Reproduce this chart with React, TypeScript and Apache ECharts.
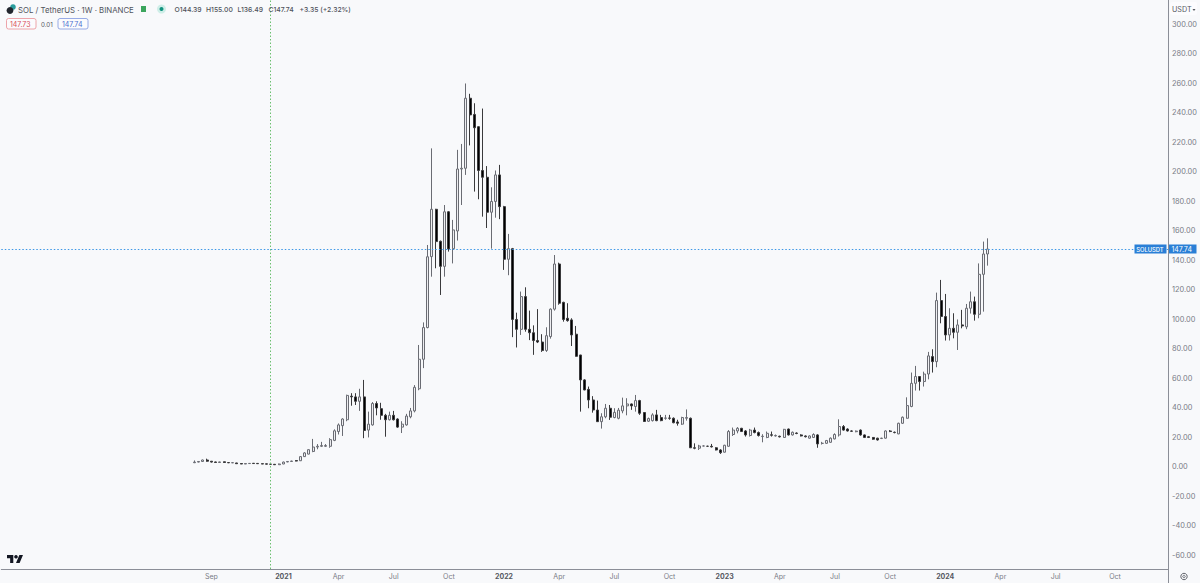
import React, { useEffect, useRef } from "react";
import * as echarts from "echarts";

const opens = [
  2.9,3.3,3.7,4.7,3.9,3.4,3.0,3.5,3.0,2.8,
  2.7,2.3,2.0,2.3,2.5,2.4,2.2,2.1,1.9,1.8,
  1.5,2.0,3.4,3.7,4.3,4.2,7,8.7,10.5,13.5,
  14,14,14,18,24,28,32,48,47.5,44.5,
  47.5,25,28.5,43,39.5,35,32,35,32.5,27,
  28.5,34,38,53,73,94.5,142.6,174.7,153,136,
  173,148,160,202,202.5,250,239,230.7,201,196.4,
  172.7,180,198,176.5,140.8,148,100,93.3,115.5,93.3,
  91,85.7,84.7,79,88.4,107,137.6,111.6,100.8,99.7,
  90,75.9,59,52.6,45.4,38.6,30.7,34,39.8,33.5,
  33,38,41.4,42.7,41,45,36.9,31,31.4,35.3,
  33.5,33,33.2,33,30.5,29,33,33,13,12.7,
  14.2,14,14,13,11.5,10,14,22,24.4,26.2,
  24.4,21.3,25,23.3,20.6,20,21.8,21,20.8,20,
  25.7,21.7,23,21.7,21,19.5,20,21.7,16,16,
  16.7,19,21.7,27.4,25.7,24.4,23.9,25,21.7,20.5,
  20,19.5,19.3,19.5,24.4,23.5,22.4,29.6,33,41,
  56.7,61.3,57.9,63,74.8,71.4,112.8,102,89.5,94,
  91.3,96.3,95,107.6,112,103.5,130.6,144.39,
];
const closes = [
  3.3,3.7,4.7,3.9,3.3,3.0,3.4,3.0,2.8,2.9,
  2.2,2.0,2.3,2.4,2.3,2.2,2.0,1.9,1.8,1.5,
  2.0,3.3,3.7,4.0,4.0,7.0,9.5,11.7,13.5,14,
  14.5,14.5,18.5,24.5,28.5,32.5,48.5,47.5,44.5,47.5,
  24.7,29,43,40,35,32,35,32,27,29,
  34.5,38,54,73,94.5,142.5,174.7,152.8,136,173,
  147.8,160.7,202,202.5,250,238.7,230,201,196.4,172.7,
  180,198,176.5,140.8,148,100,93.3,115.5,93.3,91,
  85.7,84.7,78.9,89,107,137.6,111,100,99.2,89.5,
  75,59,52.2,45.4,38.6,30.7,34,39.8,33.7,37,
  38.5,41.4,42.7,41.4,45,36.4,30.8,32.8,35.3,31.4,
  31.4,33.2,33,30,29.6,33.5,33.5,13,12.7,14.2,
  14.2,14,13.6,11.5,9.7,14.7,24,25,26.2,24,
  21.7,25,23.3,21.3,20.8,22.8,21.5,21.3,20.4,25.5,
  21.7,23.5,22.7,21,20.5,21,22,15.6,16,17.9,
  19.5,22,27.4,25,24.4,24.2,24.3,21.7,20,20,
  18.8,18.3,19.5,24.4,24,23.3,29.6,33.7,41.6,56.7,
  61.3,57.9,63,75.3,71.4,112.8,102,89.5,94,91.3,
  96.3,95.6,107.6,112,103.5,130.6,144.4,147.74,
];
const lows = [
  2.6,3.1,3.5,3.5,3.0,2.8,2.9,2.8,2.6,2.6,
  2.1,1.9,1.9,2.2,2.2,2.1,1.9,1.8,1.6,1.4,
  1.4,1.9,3.2,3.5,3.8,4.0,6.8,8.5,10,12,
  13.5,13.5,13,17.5,22,21,31,41.5,42,38,
  19.5,20,28,35,32,20.5,31.5,31.5,26.5,23,
  28,33,37,52,67,94,129,134.7,116.6,129,
  146,138,153.5,177.6,198,218,186.7,181.5,169.7,162,
  148,169,168,133.6,130,88,81,89.5,91.7,86,
  76,84,78,78,87,106,110,98.5,98.5,82,
  74.8,37.5,52,39.8,36.8,30.5,26,33,31.9,33,
  32.3,36.4,35,38.7,37.5,35.3,30.6,30.5,30.8,31,
  31,32,32,29.6,28,28.5,31.4,12.8,12,11.5,
  14,13.8,13.2,11.2,8.8,9.8,13.8,21,22.8,23.8,
  20.6,20.6,22.8,20.6,16.7,19.5,20.6,20.6,20,19.8,
  21.3,21.3,22.2,20.7,20,19.2,19.6,13,15.2,15.7,
  16.4,18.7,20.6,24.6,24,23.8,23.5,21.2,19.6,19.6,
  18.4,17.9,18.9,19.2,23.6,22.8,22.2,29.2,32.8,40.5,
  51.8,51.8,54.5,59.4,64,67.6,97.4,85.7,85.7,87.2,
  79.3,94,93.4,104,99.2,100.8,105.3,136.49,
];
const highs = [
  4.4,3.9,5.0,5.6,4.0,3.6,3.6,3.6,3.1,3.1,
  2.8,2.4,2.4,2.6,2.6,2.5,2.3,2.2,2.0,1.9,
  2.3,3.6,3.9,4.2,4.6,7.3,10,12,19,15.5,
  17,15.5,19.5,25.5,29.5,33,49,50,50,53,
  59,37.5,44,44.5,43.5,36,37.5,38,33,31,
  36,40,55.5,82.7,98,150.5,216,175,153.5,177.6,
  173.5,167.5,215,219,260,253,246.6,231,243,204,
  189.6,201,204.8,177,158,148.5,104.6,118.9,121.8,106,
  96,107,90,94.7,107.5,143.7,138.5,112,111,100.8,
  95.6,76,59.5,54.5,48,45,36.4,42.7,42,39.8,
  40,47,46.6,43,48.8,45.5,37,33.5,36.4,38.7,
  35.3,35.3,35.3,33.6,32,34,39,33.5,16,15,
  14.6,14.4,15.6,13.4,12,15,25,26.7,27,26.5,
  25,25.8,26.7,24,22.2,24,24,22,21.2,25.8,
  26,24,23.4,22.2,21.4,21.4,22.8,22.2,17,18.3,
  20,22.8,32.3,28.4,26.2,24.8,24.7,25.4,22,21,
  20.3,19.8,19.8,24.8,25,24,30,34.2,47.2,64,
  68.5,61.6,64.6,78,79.8,118.2,126.8,117.3,107.6,104.2,
  100,106.5,110.5,118.9,115.5,138,152.8,155,
];

const priceTicks = [300,280,260,240,220,200,180,160,140,120,100,80,60,40,20,0,-20,-40,-60];
const dateTicks: Record<string, string> = {
  "2020-09-07": "Sep", "2021-01-04": "2021", "2021-04-05": "Apr", "2021-07-05": "Jul",
  "2021-10-04": "Oct", "2022-01-03": "2022", "2022-04-04": "Apr", "2022-07-04": "Jul",
  "2022-10-03": "Oct", "2023-01-02": "2023", "2023-04-03": "Apr", "2023-07-03": "Jul",
  "2023-10-02": "Oct", "2024-01-01": "2024", "2024-04-01": "Apr", "2024-07-01": "Jul",
  "2024-10-07": "Oct",
};
const headerTitle = "SOL / TetherUS · 1W · BINANCE";
const ohlcParts = ["O144.39", "H155.00", "L136.49", "C147.74", "+3.35 (+2.32%)"];
const ohlcX = [174.5, 206, 237.5, 268.5, 299.5];
const lastPrice = 147.74;
const crosshairWeek = "2020-12-14";

const LEAD = 45;
const TOTAL = 275;
const FONT = "Inter, 'Noto Sans', sans-serif";

const weekMs = 7 * 864e5;
const firstWeek = Date.UTC(2020, 7, 10);
const categories = Array.from({ length: TOTAL }, (_, i) =>
  new Date(firstWeek + (i - LEAD) * weekMs).toISOString().slice(0, 10)
);
const seriesData = categories.map((_, i) => {
  const k = i - LEAD;
  return k >= 0 && k < opens.length ? [opens[k], closes[k], lows[k], highs[k]] : ["-", "-", "-", "-"];
});

echarts.graphic.registerShape(
  "tvLogo",
  echarts.graphic.extendPath("M14 22H7V11H0V4h14v18ZM28 22h-8l7.5-18h8L28 22Z", {})
);

export default function App() {
  const ref = useRef<HTMLDivElement>(null);
  useEffect(() => {
    const chart = echarts.init(ref.current!, undefined, { renderer: "svg" });
    const txt = (x: number, y: number, text: string, fill: string, size: number, extra: any = {}) => ({
      type: "text", x, y, z: 20,
      style: { text, fill, font: `${extra.weight || 400} ${size}px ${FONT}`, textVerticalAlign: "middle", textAlign: extra.align || "left" },
    });
    chart.setOption({
      animation: false,
      backgroundColor: "#f8f9fb",
      grid: { left: 1.3, right: 32, top: 0, bottom: 14 },
      xAxis: {
        type: "category",
        data: categories,
        boundaryGap: true,
        axisLine: { show: true, onZero: false, lineStyle: { color: "#8b8e97", width: 1 } },
        axisTick: { show: false },
        splitLine: { show: false },
        axisLabel: {
          interval: (_: number, v: string) => v in dateTicks,
          formatter: (v: string) => {
            const t = dateTicks[v] || "";
            return /^\d+$/.test(t) ? `{y|${t}}` : t;
          },
          color: "#787b86",
          fontSize: 7,
          fontFamily: FONT,
          margin: 4,
          hideOverlap: false,
          rich: { y: { fontSize: 7, fontWeight: 700, color: "#55585f", fontFamily: FONT } },
        },
      },
      yAxis: {
        type: "value",
        position: "right",
        min: -69.2,
        max: 316.6,
        scale: true,
        axisLine: { show: true, lineStyle: { color: "#8b8e97", width: 1 } },
        axisTick: { show: false },
        splitLine: { show: false },
        axisLabel: {
          customValues: priceTicks,
          formatter: (v: number) => v.toFixed(2),
          color: "#787b86",
          fontSize: 7.4,
          fontFamily: FONT,
          margin: 4,
          showMinLabel: true,
          showMaxLabel: true,
        },
      },
      series: [
        {
          type: "candlestick",
          data: seriesData,
          barWidth: 2.5,
          clip: false,
          itemStyle: {
            color: "#eeeef1",
            color0: "#000000",
            borderColor: "#6a6c73",
            borderColor0: "#3a3a3c",
            borderWidth: 1,
          },
          markLine: {
            silent: true,
            symbol: "none",
            animation: false,
            label: { show: false },
            data: [
              { yAxis: lastPrice, lineStyle: { color: "#3d97e6", type: [1.5, 2], width: 1 } },
              { xAxis: crosshairWeek, lineStyle: { color: "#6cc070", type: [1.5, 2], width: 1 } },
            ],
          },
        },
      ],
      graphic: [
        { type: "line", z: 20, shape: { x1: 1168.5, y1: 569, x2: 1168.5, y2: 583 }, style: { stroke: "#8b8e97", lineWidth: 1 } },
        { type: "rect", z: 19, shape: { x: 1170, y: 2, width: 27, height: 13, r: 2 }, style: { fill: "#fcfcfe" } },
        txt(1172, 9.5, "USDT", "#55585f", 7.2),
        { type: "polygon", z: 20, shape: { points: [[1192.5, 9], [1195.5, 9], [1194, 11]] }, style: { fill: "#55585f" } },
        { type: "circle", z: 20, shape: { cx: 13, cy: 7, r: 2.8 }, style: { fill: "#2a9d9d" } },
        { type: "circle", z: 21, shape: { cx: 10, cy: 10.5, r: 3.4 }, style: { fill: "#22262e" } },
        txt(18, 9.5, headerTitle, "#50535c", 7.8),
        { type: "rect", z: 20, shape: { x: 141, y: 6, width: 5, height: 6 }, style: { fill: "#3ba55d" } },
        { type: "circle", z: 20, shape: { cx: 161.5, cy: 9, r: 4.5 }, style: { fill: "#cfeee8" } },
        { type: "circle", z: 21, shape: { cx: 161.5, cy: 9, r: 2 }, style: { fill: "#11937f" } },
        ...ohlcParts.map((t, i) => txt(ohlcX[i], 9.5, t, "#50535c", 6.8, { weight: 500 })),
        { type: "rect", z: 20, shape: { x: 6.5, y: 18.5, width: 29.5, height: 10.5, r: 2 }, style: { fill: "#fbfbfd", stroke: "#ea8f96", lineWidth: 0.8 } },
        txt(10, 24, "147.73", "#d9505a", 7),
        txt(41, 24, "0.01", "#50535c", 6.2),
        { type: "rect", z: 20, shape: { x: 58, y: 18.5, width: 30, height: 10.5, r: 2 }, style: { fill: "#fbfbfd", stroke: "#7f97e0", lineWidth: 0.8 } },
        txt(62, 24, "147.74", "#4c6fd0", 7),
        { type: "rect", z: 20, shape: { x: 1134.5, y: 244.5, width: 32, height: 9 }, style: { fill: "#2a7fd6" } },
        { type: "rect", z: 20, shape: { x: 1169, y: 244.5, width: 27.5, height: 9 }, style: { fill: "#2a7fd6" } },
        txt(1136.2, 249, "SOLUSDT", "#ffffff", 5.8, { weight: 500 }),
        txt(1171.5, 249, "147.74", "#ffffff", 7),
        { type: "tvLogo", x: 7, y: 553.2, scaleX: 0.45, scaleY: 0.45, z: 20, style: { fill: "#131722" } },
        { type: "circle", z: 20, shape: { cx: 16, cy: 556.8, r: 1.8 }, style: { fill: "#131722" } },
        { type: "circle", z: 20, shape: { cx: 1184, cy: 576.5, r: 3.2 }, style: { fill: "none", stroke: "#50535c", lineWidth: 0.9 } },
        { type: "circle", z: 20, shape: { cx: 1184, cy: 576.5, r: 1.2 }, style: { fill: "none", stroke: "#50535c", lineWidth: 0.8 } },
      ],
    });
    return () => chart.dispose();
  }, []);
  return <div ref={ref} style={{ position: "fixed", left: 0, top: 0, width: 1200, height: 583 }} />;
}
